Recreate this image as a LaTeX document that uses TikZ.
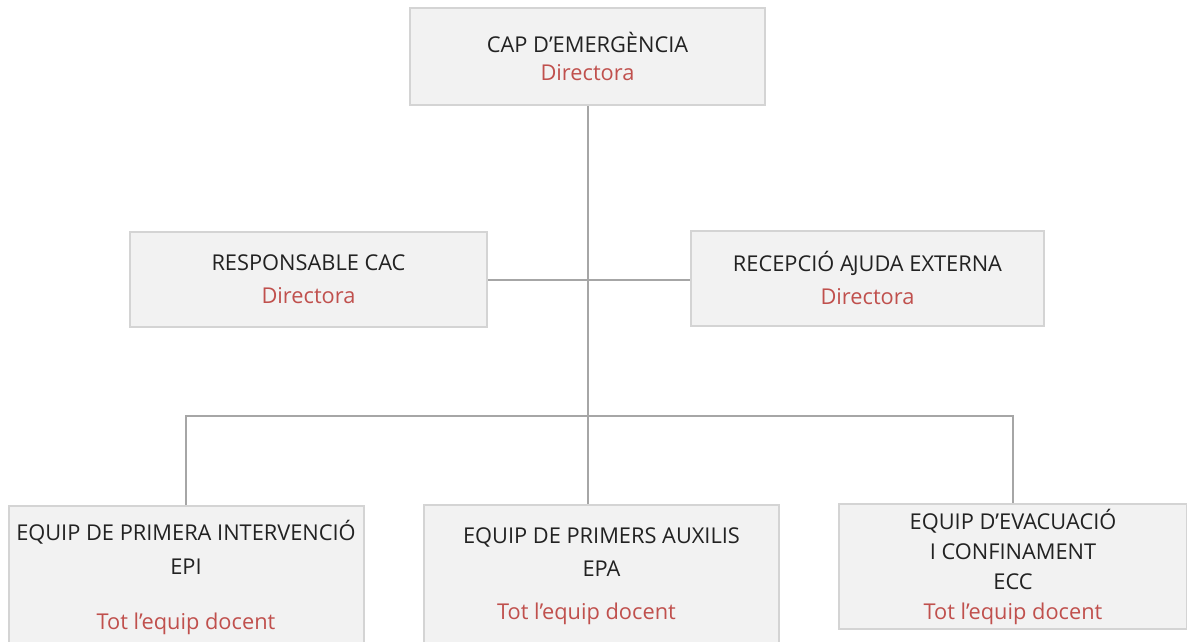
\documentclass[tikz,border=0pt]{standalone}
\usepackage{fontspec}
\setmainfont{Open Sans}
\usetikzlibrary{positioning}

\definecolor{rolred}{HTML}{C0504D}
\definecolor{boxfill}{HTML}{F2F2F2}
\definecolor{boxline}{HTML}{D4D4D4}
\definecolor{linkgray}{HTML}{A6A6A6}
\definecolor{textdark}{HTML}{222222}

\newcommand{\rol}[1]{{\color{rolred}#1}}

\tikzset{
  caixa/.style={draw=boxline, fill=boxfill, line width=2pt, align=center,
    minimum width=355pt, text=textdark, font=\fontsize{21.8}{30}\selectfont},
  enllac/.style={draw=linkgray, line width=2pt},
}

\begin{document}
\begin{tikzpicture}[x=1pt,y=-1pt]
    \useasboundingbox (0,0) rectangle (1187,641);
    % direccio
    \node[caixa, minimum height=97pt] (cap) at (587.5,56.5)
        {CAP D’EMERGÈNCIA\\[-2pt]\rol{Directora}};
    \node[caixa, minimum height=95pt, minimum width=357pt] (cac) at (308.5,279.5)
        {RESPONSABLE CAC\\[3pt]\rol{Directora}};
    \node[caixa, minimum height=95pt, minimum width=353pt] (ext) at (867.5,278)
        {RECEPCIÓ A\kern-1pt JUDA EXTERNA\\[3pt]\rol{Directora}};
    % equips
    \node[caixa, anchor=north, minimum height=142pt] (epi) at (186,505)
        {EQUIP DE PRIMERA INTERVENCIÓ\\[4pt]EPI\\[25pt]\rol{Tot l’equip docent}};
    \node[caixa, anchor=north, minimum height=142pt] (epa) at (601.5,504)
        {EQUIP DE PRIMERS AUXILIS\\[3pt]EPA\\[13pt]\rol{Tot l’equip docent}\hspace*{30pt}};
    \node[caixa, anchor=north, minimum height=125pt, minimum width=348pt] (ecc) at (1013,503)
        {EQUIP D’EVACUACIÓ\\I CONFINAMENT\\ECC\\\rol{Tot l’equip docent}};
    % connexions
    \coordinate (bus) at (587,416);
    \draw[enllac] (cap.south) -- (cap.south |- epa.north);
    \draw[enllac] (cac.east) -- (cac.east -| ext.west);
    \draw[enllac] (epi.north) |- (bus) -| (ecc.north);
\end{tikzpicture}
\end{document}
